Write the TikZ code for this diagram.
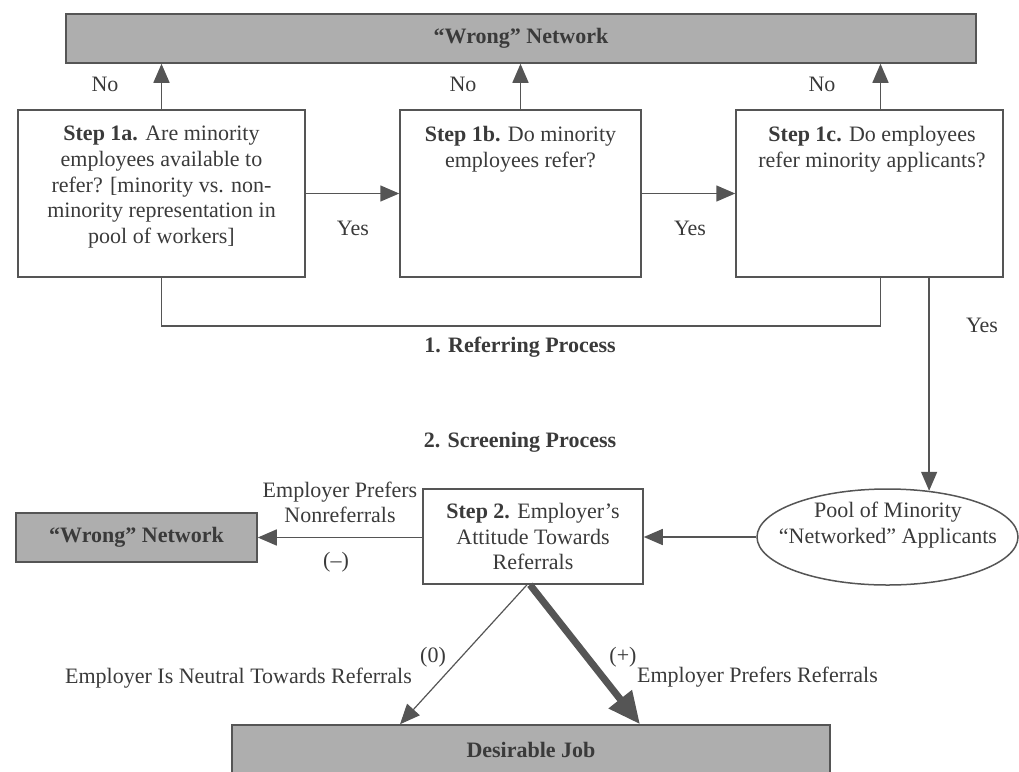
\documentclass[tikz,border=0pt]{standalone}
\usepackage{fontspec}
\setmainfont{Liberation Serif}
\usetikzlibrary{shapes.geometric,arrows.meta}
\definecolor{lncol}{HTML}{555555}
\definecolor{txcol}{HTML}{3A3A3A}
\definecolor{gfcol}{HTML}{AEAEAE}
\begin{document}
\begin{tikzpicture}[x=1pt,y=-1pt,
  every node/.style={text=txcol, font=\fontsize{22}{25.7}\selectfont},
  box/.style={draw=lncol, line width=1.5pt, rectangle, inner sep=0pt},
  graybox/.style={box, fill=gfcol, font=\fontsize{22}{25.7}\selectfont\bfseries},
  arr/.style={draw=lncol, line width=1.5pt, -{Triangle[length=19pt,width=16pt]}},
  conn/.style={draw=lncol, line width=1.5pt},
  txt/.style={align=center, inner sep=0pt},
  head/.style={font=\fontsize{22}{25.7}\selectfont\bfseries}
]
\useasboundingbox (0,0) rectangle (1019,771);
% top bar
\node[graybox, minimum width=910pt, minimum height=49pt] (top) at (521,38.5) {“Wrong” Network};
% step boxes
\node[box, minimum width=287pt, minimum height=167pt] (b1a) at (161.5,193.5) {};
\node[box, minimum width=241pt, minimum height=167pt] (b1b) at (520.5,193.5) {};
\node[box, minimum width=267pt, minimum height=167pt] (b1c) at (869.5,193.5) {};
\node[txt, anchor=north] (t1a) at (161.5,126) {\textbf{Step 1a.} Are minority\\employees available to\\refer? [minority vs. non-\\minority representation in\\pool of workers]};
\node[txt, anchor=north] (t1b) at (520.5,126) {\textbf{Step 1b.} Do minority\\employees refer?};
\node[txt, anchor=north] (t1c) at (872,126) {\textbf{Step 1c.} Do employees\\refer minority applicants?};
% No arrows
\draw[arr] (b1a.north) -- (b1a.north |- top.south);
\draw[arr] (b1b.north) -- (b1b.north |- top.south);
\draw[arr] ([xshift=11pt]b1c.north) -- ([xshift=11pt]b1c.north |- top.south);
\node (no1) at (105,84) {No};
\node (no2) at (463,84) {No};
\node (no3) at (822,84) {No};
% Yes arrows
\draw[arr] (b1a.east) -- (b1b.west);
\draw[arr] (b1b.east) -- (b1c.west);
\node (yes1) at (353,228) {Yes};
\node (yes2) at (690,228) {Yes};
% bracket line
\draw[conn] (b1a.south) -- ++(0,48) -| ([xshift=11pt]b1c.south);
% headings
\node[head] (h1) at (520,347) {1. Referring Process};
\node[head] (h2) at (520,442) {2. Screening Process};
% pool
\node[draw=lncol, line width=1.5pt, ellipse, minimum width=261pt, minimum height=96pt, inner sep=0pt] (pool) at (887.5,537) {};
\node[txt] (pooltxt) at (888,525) {Pool of Minority\\“Networked” Applicants};
\draw[arr] (b1c.south -| pool.48) -- (pool.48);
\node (yes3) at (982,325) {Yes};
% step 2
\node[box, minimum width=220pt, minimum height=95pt, align=center] (s2) at (533,536.5) {\textbf{Step 2.} Employer’s\\Attitude Towards\\Referrals};
\draw[arr] (pool.west) -- (pool.west -| s2.east);
% left wrong network
\node[graybox, minimum width=241pt, minimum height=49pt] (wrong2) at (136.5,537.5) {“Wrong” Network};
\draw[arr] (s2.west |- wrong2.east) -- (wrong2.east);
\node[txt] (lneg) at (340,502.5) {Employer Prefers\\Nonreferrals};
\node (neg) at (336,562) {(–)};
% desirable job
\node[graybox, minimum width=598pt, minimum height=50pt] (job) at (531,750) {Desirable Job};
\draw[draw=lncol, line width=1.2pt, -{Triangle[length=20pt,width=17pt]}] ([xshift=-6pt]s2.south) -- ([xshift=-131pt]job.north);
\draw[draw=lncol, line width=7pt, -{Triangle[length=32pt,width=28pt]}] ([xshift=-3pt]s2.south) -- ([xshift=109pt]job.north);
\node (zero) at (433,657) {(0)};
\node (plus) at (623,657) {(+)};
\node (lneu) at (238.5,678) {Employer Is Neutral Towards Referrals};
\node (lpos) at (757.5,677) {Employer Prefers Referrals};
\end{tikzpicture}
\end{document}
